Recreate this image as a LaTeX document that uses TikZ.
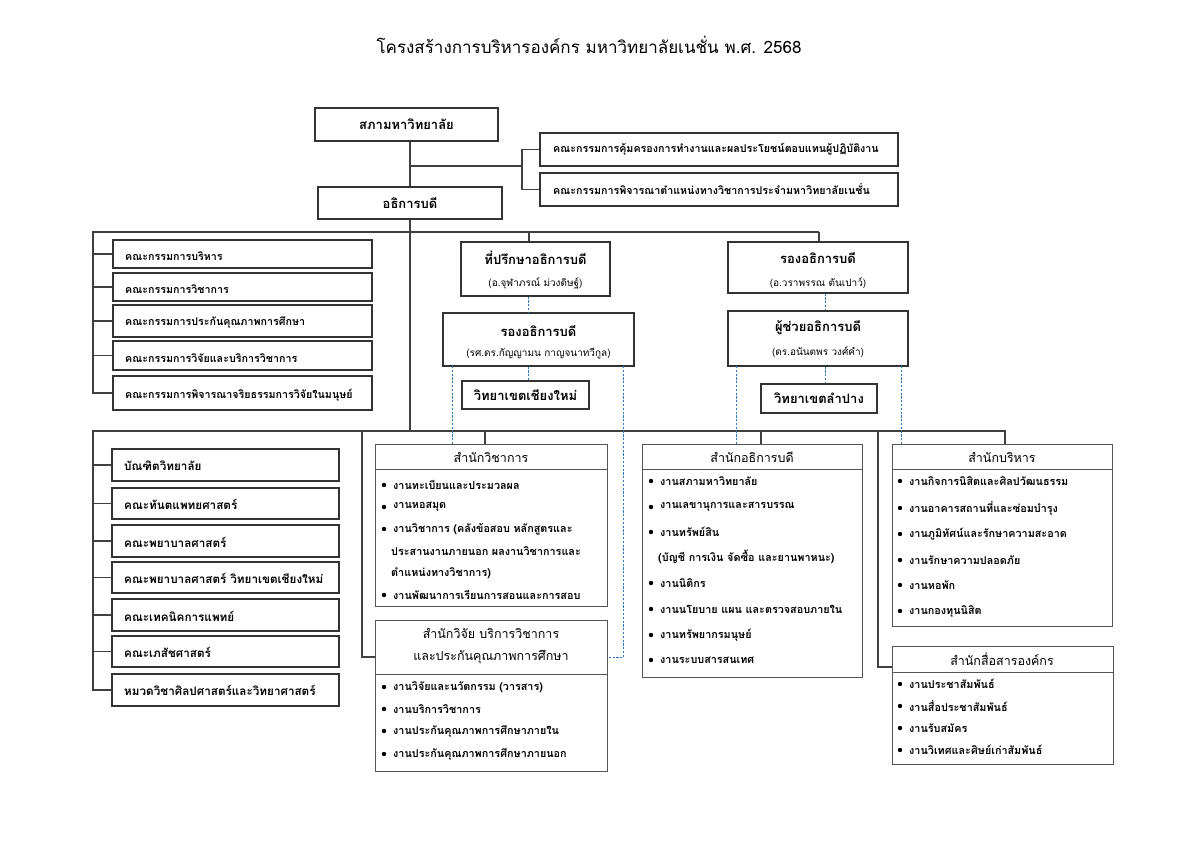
\documentclass[tikz,border=0pt]{standalone}
\usepackage{fontspec}
\setmainfont[Script=Thai]{Loma}
\usetikzlibrary{fit}
\definecolor{boxc}{HTML}{333333}
\definecolor{offc}{HTML}{555555}
\definecolor{linec}{HTML}{404040}
\definecolor{dashc}{HTML}{2E78C0}
\tikzset{
  bx/.style={draw=boxc, line width=1.1pt, inner sep=0pt},
  ob/.style={draw=offc, line width=1pt, inner sep=0pt},
  conn/.style={draw=linec, line width=1.1pt},
  dsh/.style={draw=dashc, line width=1pt, dash pattern=on 2.2pt off 1.6pt},
  btxt/.style={font=\bfseries\fontsize{13}{15}\selectfont, inner sep=0pt},
  stxt/.style={font=\fontsize{10}{12}\selectfont, inner sep=0pt},
  ltxt/.style={font=\bfseries\fontsize{10.7}{12}\selectfont, inner sep=0pt, anchor=west},
  ftxt/.style={font=\bfseries\fontsize{11.7}{13}\selectfont, inner sep=0pt, anchor=west},
  htxt/.style={font=\fontsize{12.5}{14}\selectfont, inner sep=0pt},
  itxt/.style={font=\bfseries\fontsize{10.8}{12}\selectfont, inner sep=0pt, anchor=west},
  ttxt/.style={font=\fontsize{17}{20}\selectfont, inner sep=0pt},
}
\newcommand\mkbox[6]{\node[#6, fit={(#2,#3) (#4,#5)}] (#1) {};}
\newcommand\bul[3]{\fill[black] (#1,#2) circle (2.2pt); \node[itxt] at (#1+9,#2) {#3};}
\begin{document}
\begin{tikzpicture}[x=1pt,y=-1pt]
\useasboundingbox (0,0) rectangle (1177,853);
\fill[white] (0,0) rectangle (1177,853);
% title
\node[ttxt] (title) at (589,45) {โครงสร้างการบริหารองค์กร มหาวิทยาลัยเนชั่น พ.ศ. 2568};

% top boxes
\mkbox{council}{315}{108}{498}{141}{bx}
\node[btxt] at (council.center) {สภามหาวิทยาลัย};
\mkbox{pres}{318}{187}{502}{219}{bx}
\node[btxt] at (pres.center) {อธิการบดี};
\mkbox{cA}{540}{133}{898}{166}{bx}
\node[ltxt] at (553,149.5) {คณะกรรมการคุ้มครองการทำงานและผลประโยชน์ตอบแทนผู้ปฏิบัติงาน};
\mkbox{cB}{540}{173}{898}{206}{bx}
\node[ltxt] at (553,189.5) {คณะกรรมการพิจารณาตำแหน่งทางวิชาการประจำมหาวิทยาลัยเนชั่น};

\coordinate (j1) at (410,166);
\coordinate (j2) at (522,166);
\draw[conn] (council.south -| j1) -- (pres.north -| j1);
\draw[conn] (j1) -- (j2);
\draw[conn] (cA.west) -| (j2) |- (cB.west);

% committees left
\mkbox{k1}{113}{240}{372}{268}{bx}
\mkbox{k2}{113}{273}{372}{301}{bx}
\mkbox{k3}{113}{305}{372}{337}{bx}
\mkbox{k4}{113}{341}{372}{370}{bx}
\mkbox{k5}{113}{376}{372}{410}{bx}
\node[ltxt] at (125,256) {คณะกรรมการบริหาร};
\node[ltxt] at (125,289) {คณะกรรมการวิชาการ};
\node[ltxt] at (125,323) {คณะกรรมการประกันคุณภาพการศึกษา};
\node[ltxt] at (125,358) {คณะกรรมการวิจัยและบริการวิชาการ};
\node[ltxt] at (125,395) {คณะกรรมการพิจารณาจริยธรรมการวิจัยในมนุษย์};

\coordinate (b1L) at (93,232);
\coordinate (b1M) at (410,232);
\coordinate (b1A) at (529,232);
\coordinate (b1R) at (819,232);
\draw[conn] (pres.south -| b1M) -- (b1M);
\draw[conn] (k5.west) -| (b1L) -- (b1R);
\foreach \k in {k1,k2,k3,k4} \draw[conn] (\k.west) -- (\k.west -| b1L);

% advisor & VPs
\mkbox{adv}{461}{242}{610}{296}{bx}
\node[btxt] at (535.5,258) {ที่ปรึกษาอธิการบดี};
\node[stxt] at (535.5,283) {(อ.จุฬาภรณ์ ม่วงดิษฐ์)};
\mkbox{vpl}{443}{313}{634}{366}{bx}
\node[btxt] at (538.5,331) {รองอธิการบดี};
\node[stxt] at (538.5,354) {(รศ.ดร.กัญญามน กาญจนาทวีกูล)};
\mkbox{cm}{462}{381}{589}{409}{bx}
\node[btxt] at (cm.center) {วิทยาเขตเชียงใหม่};
\mkbox{vpr}{728}{242}{908}{293}{bx}
\node[btxt] at (818,258) {รองอธิการบดี};
\node[stxt] at (818,283) {(อ.วราพรรณ ตันเปาว์)};
\mkbox{asst}{728}{311}{908}{366}{bx}
\node[btxt] at (818,328) {ผู้ช่วยอธิการบดี};
\node[stxt] at (818,352) {(ดร.อนันตพร วงศ์คำ)};
\mkbox{lp}{761}{384}{877}{413}{bx}
\node[btxt] at (lp.center) {วิทยาเขตลำปาง};

\draw[conn] (b1A) -- (adv.north -| b1A);
\draw[conn] (b1R) -- (vpr.north -| b1R);
\coordinate (dA) at (528.5,300);
\coordinate (dB) at (825.5,300);
\draw[dsh] (adv.south -| dA) -- (vpl.north -| dA);
\draw[dsh] (vpl.south -| dA) -- (cm.north -| dA);
\draw[dsh] (vpr.south -| dB) -- (asst.north -| dB);
\draw[dsh] (asst.south -| dB) -- (lp.north -| dB);

% faculties
\mkbox{f1}{112}{449}{339}{481}{bx}
\mkbox{f2}{112}{488}{339}{519}{bx}
\mkbox{f3}{112}{525}{339}{557}{bx}
\mkbox{f4}{112}{562}{339}{593}{bx}
\mkbox{f5}{112}{599}{339}{631}{bx}
\mkbox{f6}{112}{636}{339}{667}{bx}
\mkbox{f7}{112}{674}{339}{706}{bx}
\node[ftxt] at (124,466) {บัณฑิตวิทยาลัย};
\node[ftxt] at (124,504) {คณะทันตแพทยศาสตร์};
\node[ftxt] at (124,542) {คณะพยาบาลศาสตร์};
\node[ftxt] at (124,578) {คณะพยาบาลศาสตร์ วิทยาเขตเชียงใหม่};
\node[ftxt] at (124,616) {คณะเทคนิคการแพทย์};
\node[ftxt] at (124,652) {คณะเภสัชศาสตร์};
\node[ftxt] at (124,690) {หมวดวิชาศิลปศาสตร์และวิทยาศาสตร์};

% offices
\mkbox{acad}{375}{444}{607}{606}{ob}
\draw[draw=offc, line width=1pt] (acad.west |- 0,469) -- (acad.east |- 0,469);
\node[htxt] at (491,457) {สำนักวิชาการ};
\bul{384}{485}{งานทะเบียนและประมวลผล}
\bul{384}{507}{งานหอสมุด}
\bul{384}{529}{งานวิชาการ (คลังข้อสอบ หลักสูตรและ}
\node[itxt] at (391,551) {ประสานงานภายนอก ผลงานวิชาการและ};
\node[itxt] at (391,573) {ตำแหน่งทางวิชาการ)};
\bul{384}{595}{งานพัฒนาการเรียนการสอนและการสอบ}

\mkbox{res}{375}{620}{607}{771}{ob}
\draw[draw=offc, line width=1pt] (res.west |- 0,674) -- (res.east |- 0,674);
\node[htxt] at (491,633) {สำนักวิจัย บริการวิชาการ};
\node[htxt] at (491,657) {และประกันคุณภาพการศึกษา};
\bul{384}{687}{งานวิจัยและนวัตกรรม (วารสาร)}
\bul{384}{709}{งานบริการวิชาการ}
\bul{384}{731}{งานประกันคุณภาพการศึกษาภายใน}
\bul{384}{754}{งานประกันคุณภาพการศึกษาภายนอก}

\mkbox{po}{642}{444}{862}{677}{ob}
\draw[draw=offc, line width=1pt] (po.west |- 0,469) -- (po.east |- 0,469);
\node[htxt] at (752,457) {สำนักอธิการบดี};
\bul{651}{481}{งานสภามหาวิทยาลัย}
\bul{651}{507}{งานเลขานุการและสารบรรณ}
\bul{651}{532}{งานทรัพย์สิน}
\node[itxt] at (658,557) {(บัญชี การเงิน จัดซื้อ และยานพาหนะ)};
\bul{651}{583}{งานนิติกร}
\bul{651}{609}{งานนโยบาย แผน และตรวจสอบภายใน}
\bul{651}{635}{งานทรัพยากรมนุษย์}
\bul{651}{660}{งานระบบสารสนเทศ}

\mkbox{adm}{892}{444}{1112}{626}{ob}
\draw[draw=offc, line width=1pt] (adm.west |- 0,469) -- (adm.east |- 0,469);
\node[htxt] at (1002,457) {สำนักบริหาร};
\bul{900}{481}{งานกิจการนิสิตและศิลปวัฒนธรรม}
\bul{900}{508}{งานอาคารสถานที่และซ่อมบำรุง}
\bul{900}{534}{งานภูมิทัศน์และรักษาความสะอาด}
\bul{900}{560}{งานรักษาความปลอดภัย}
\bul{900}{585}{งานหอพัก}
\bul{900}{611}{งานกองทุนนิสิต}

\mkbox{com}{892}{646}{1113}{764}{ob}
\draw[draw=offc, line width=1pt] (com.west |- 0,672) -- (com.east |- 0,672);
\node[htxt] at (1002,659) {สำนักสื่อสารองค์กร};
\bul{900}{684}{งานประชาสัมพันธ์}
\bul{900}{706}{งานสื่อประชาสัมพันธ์}
\bul{900}{728}{งานรับสมัคร}
\bul{900}{750}{งานวิเทศและศิษย์เก่าสัมพันธ์}

% bus 2
\coordinate (b2L) at (93,431);
\coordinate (b2M) at (410,431);
\coordinate (b2R) at (1005,431);
\coordinate (d1) at (362,431);
\coordinate (d2) at (485,431);
\coordinate (d3) at (761,431);
\coordinate (d4) at (878,431);
\draw[conn] (b1M) -- (b2M);
\draw[conn] (f7.west) -| (b2L) -- (b2R) -- (adm.north -| b2R);
\foreach \f in {f1,f2,f3,f4,f5,f6} \draw[conn] (\f.west) -- (\f.west -| b2L);
\draw[conn] (d2) -- (acad.north -| d2);
\draw[conn] (d3) -- (po.north -| d3);
\coordinate (r1) at (362,657);
\draw[conn] (d1) -- (r1) -- (r1 -| res.west);
\coordinate (r2) at (878,667);
\draw[conn] (d4) -- (r2) -- (r2 -| com.west);

% dashed links
\coordinate (x1) at (452.5,366);
\coordinate (x2) at (623.5,366);
\coordinate (x3) at (736.5,366);
\coordinate (x4) at (901.5,366);
\coordinate (x2b) at (623.5,657.5);
\draw[dsh] (x1) -- (acad.north -| x1);
\draw[dsh] (x2) -- (x2b) -- (x2b -| res.east);
\draw[dsh] (x3) -- (po.north -| x3);
\draw[dsh] (x4) -- (adm.north -| x4);
\end{tikzpicture}
\end{document}
